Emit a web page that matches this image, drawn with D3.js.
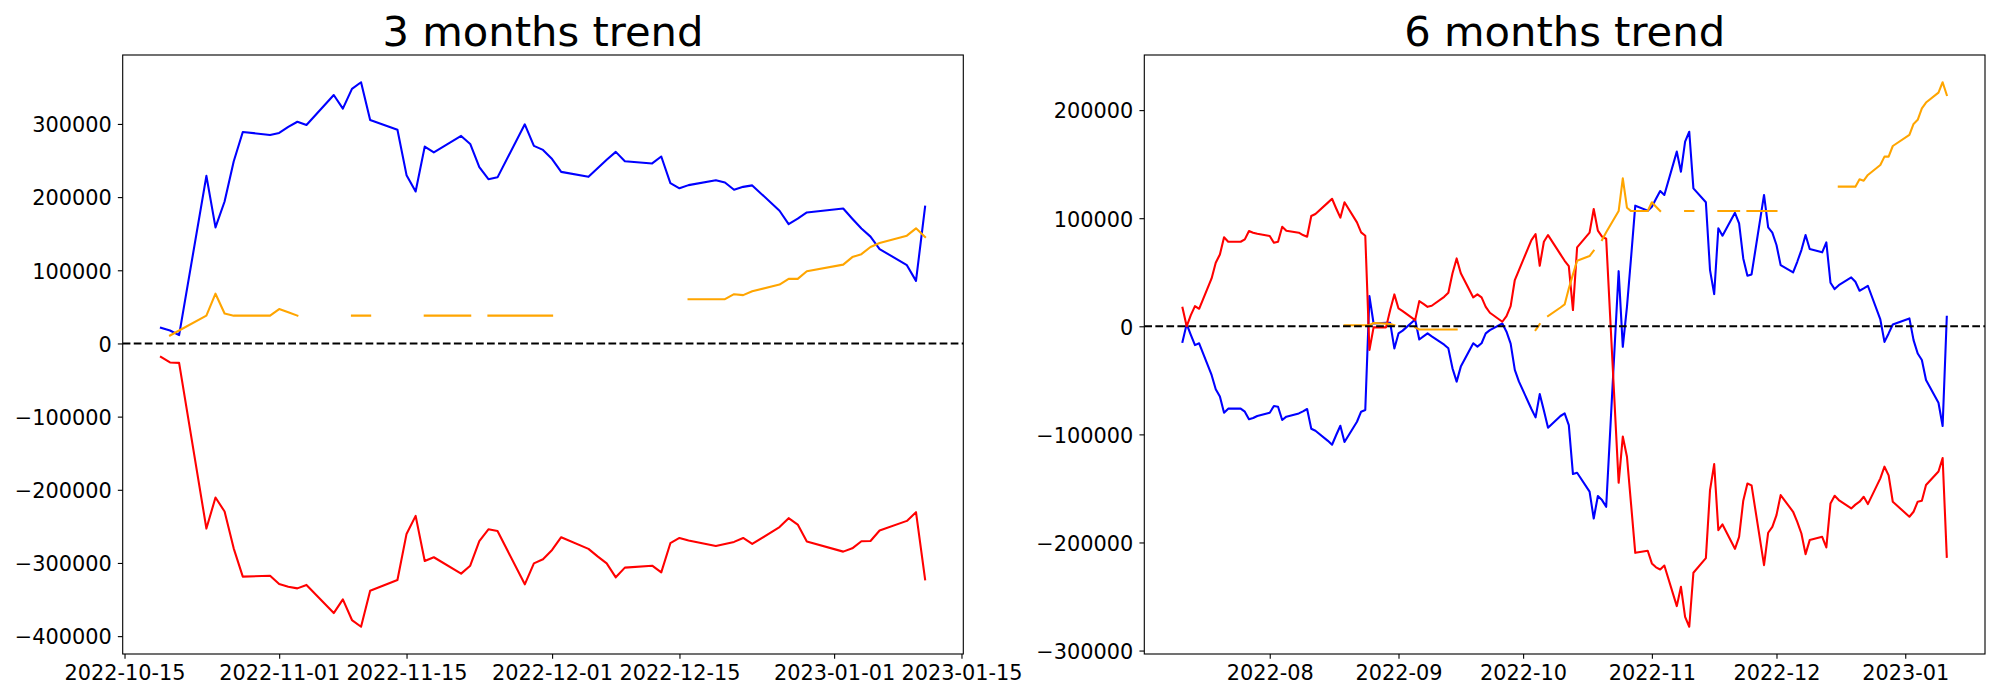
<!DOCTYPE html>
<html><head><meta charset="utf-8">
<script src="https://cdn.jsdelivr.net/npm/d3@7"></script>
<style>body{margin:0;background:#fff}svg{display:block;background:#fff}</style>
</head><body>
<svg id="chart" width="2000" height="700"></svg>
<script>
// ---------- 3 months panel ----------
const dates3 = ["2022-10-19","2022-10-20","2022-10-21",
"2022-10-24","2022-10-25","2022-10-26","2022-10-27","2022-10-28",
"2022-10-31","2022-11-01","2022-11-02","2022-11-03","2022-11-04",
"2022-11-07","2022-11-08","2022-11-09","2022-11-10","2022-11-11",
"2022-11-14","2022-11-15","2022-11-16","2022-11-17","2022-11-18",
"2022-11-21","2022-11-22","2022-11-23","2022-11-24","2022-11-25",
"2022-11-28","2022-11-29","2022-11-30","2022-12-01","2022-12-02",
"2022-12-05","2022-12-06","2022-12-07","2022-12-08","2022-12-09",
"2022-12-12","2022-12-13","2022-12-14","2022-12-15","2022-12-16",
"2022-12-19","2022-12-20","2022-12-21","2022-12-22","2022-12-23",
"2022-12-26","2022-12-27","2022-12-28","2022-12-29",
"2023-01-02","2023-01-03","2023-01-04","2023-01-05","2023-01-06",
"2023-01-09","2023-01-10","2023-01-11"];
const blue3 = [21400,17700,11400,
229000,158600,194000,248600,289000,
285000,287700,296000,303000,298600,
339500,321000,348000,357000,305500,
292000,230000,207700,269000,261000,
283600,272700,241000,224500,227000,
299500,270000,264500,252000,234500,
227700,239500,251000,261800,249000,
246000,255500,219000,212000,216400,
223000,220000,210000,214000,216000,
181400,163000,170500,179000,
184500,170500,157000,146000,129000,
107000,85500,187000];
const red3 = [-18300,-26000,-26500,
-253000,-210500,-229700,-280000,-318700,
-317400,-328800,-332400,-334700,-330000,
-368500,-349800,-378000,-387200,-338000,
-323300,-260300,-235600,-297300,-292200,
-314600,-303700,-270300,-254000,-256200,
-329200,-300500,-295000,-282200,-264800,
-280800,-291000,-300500,-319600,-306400,
-303700,-312800,-273000,-265800,-269400,
-276700,-274000,-271200,-265800,-274000,
-251000,-238800,-247500,-270800,
-284500,-280000,-270300,-269900,-255700,
-242500,-230600,-322400];
const orange3 = [null,10900,17700,
38000,68000,41000,38000,38000,
38000,47000,42700,38000,null,
null,null,38000,38000,38000,
null,null,null,38000,38000,
38000,38000,null,38000,38000,
38000,38000,38000,38000,null,
null,null,null,null,null,
null,null,null,null,60500,
60500,60500,67300,66000,71400,
80500,88200,88200,98600,
107700,118000,122000,131800,137300,
147300,157300,145500];
const yTicks3 = [-400000,-300000,-200000,-100000,0,100000,200000,300000];
const xTicks3 = ["2022-10-15","2022-11-01","2022-11-15","2022-12-01","2022-12-15","2023-01-01","2023-01-15"];

// ---------- 6 months panel ----------
const dates6 = [
"2022-07-11","2022-07-12","2022-07-13","2022-07-14","2022-07-15",
"2022-07-18","2022-07-19","2022-07-20","2022-07-21","2022-07-22",
"2022-07-25","2022-07-26","2022-07-27","2022-07-28","2022-07-29",
"2022-08-01","2022-08-02","2022-08-03","2022-08-04","2022-08-05",
"2022-08-08","2022-08-09","2022-08-10","2022-08-11","2022-08-12",
"2022-08-15","2022-08-16","2022-08-17","2022-08-18","2022-08-19",
"2022-08-22","2022-08-23","2022-08-24","2022-08-25","2022-08-26",
"2022-08-29","2022-08-30","2022-08-31","2022-09-01","2022-09-02",
"2022-09-05","2022-09-06","2022-09-07","2022-09-08","2022-09-09",
"2022-09-12","2022-09-13","2022-09-14","2022-09-15","2022-09-16",
"2022-09-19","2022-09-20","2022-09-21","2022-09-22","2022-09-23",
"2022-09-26","2022-09-27","2022-09-28","2022-09-29","2022-09-30",
"2022-10-03","2022-10-04","2022-10-05","2022-10-06","2022-10-07",
"2022-10-10","2022-10-11","2022-10-12","2022-10-13","2022-10-14",
"2022-10-17","2022-10-18","2022-10-19","2022-10-20","2022-10-21",
"2022-10-24","2022-10-25","2022-10-26","2022-10-27","2022-10-28",
"2022-10-31","2022-11-01","2022-11-02","2022-11-03","2022-11-04",
"2022-11-07","2022-11-08","2022-11-09","2022-11-10","2022-11-11",
"2022-11-14","2022-11-15","2022-11-16","2022-11-17","2022-11-18",
"2022-11-21","2022-11-22","2022-11-23","2022-11-24","2022-11-25",
"2022-11-28","2022-11-29","2022-11-30","2022-12-01","2022-12-02",
"2022-12-05","2022-12-06","2022-12-07","2022-12-08","2022-12-09",
"2022-12-12","2022-12-13","2022-12-14","2022-12-15","2022-12-16",
"2022-12-19","2022-12-20","2022-12-21","2022-12-22","2022-12-23",
"2022-12-26","2022-12-27","2022-12-28","2022-12-29",
"2023-01-02","2023-01-03","2023-01-04","2023-01-05","2023-01-06",
"2023-01-09","2023-01-10","2023-01-11"];
const red6 = [
17200,0,10300,18700,16200,
44300,58800,66500,82300,78200,
78200,80400,88100,86600,85600,
83500,77300,78200,92100,88400,
86600,84400,82900,102000,103900,
114400,118000,109000,100500,114700,
96100,86900,83800,-22000,-1000,
-1000,15000,29500,16500,14000,
5700,23300,20800,18000,19000,
27300,31000,49000,62800,49000,
26700,29500,26700,18000,12500,
4200,9400,18700,42800,52000,
79800,85300,56000,78200,84400,
66500,60600,55700,15000,73000,
86600,108500,88500,83000,81000,
-144800,-102000,-120700,-165000,-209600,
-207700,-219400,-223000,-225000,-221300,
-258900,-241000,-268800,-278000,-228000,
-214500,-151500,-127500,-188600,-183300,
-205900,-194800,-161400,-145400,-147200,
-221000,-191000,-185500,-174700,-156200,
-171600,-180900,-191700,-210800,-197800,
-194800,-204600,-163900,-156800,-160800,
-168500,-165000,-162300,-157700,-164500,
-140700,-129900,-137900,-162300,
-176200,-171600,-162300,-161400,-146900,
-134300,-121900,-213300];
const blue6 = [
-14400,2000,-8000,-17400,-15700,
-45000,-58300,-65000,-80000,-76200,
-76200,-79000,-86000,-84900,-83000,
-80000,-73800,-74400,-86700,-83600,
-80600,-78700,-76500,-94800,-96600,
-106000,-109600,-100600,-92000,-107000,
-88300,-79000,-77500,27900,2600,
3200,3200,-20500,-6600,-4000,
6300,-12200,-9400,-6600,-9400,
-17000,-20400,-38900,-51200,-37300,
-15700,-18800,-15700,-6600,-3500,
2600,-5000,-16000,-40400,-51200,
-76500,-84300,-62700,-78000,-93800,
-83000,-80600,-91400,-136700,-135500,
-153000,-177800,-157000,-160800,-167000,
51000,-19000,18000,64000,111600,
107000,110600,118000,125200,121500,
161600,143000,170800,180000,127600,
114700,52000,29800,90600,83800,
105000,95200,62800,46800,48000,
121500,91500,86600,75200,56600,
49800,59700,70500,84400,71500,
68400,77600,40300,34400,38000,
45200,41200,32900,35000,37500,
6300,-14400,-6600,1700,
7300,-12800,-25200,-31200,-49700,
-70700,-92300,8800];
const orange6 = [
null,null,null,null,null,
null,null,null,null,null,
null,null,null,null,null,
null,null,null,null,null,
null,null,null,null,null,
null,null,null,null,1000,
1000,1000,1000,1000,3000,
2500,2000,1000,null,null,
-1000,-3000,-3000,-3000,-3000,
-3000,-3000,-3000,-3000,null,
null,null,null,null,null,
null,null,null,null,null,
null,-3500,2000,null,9400,
17400,20200,35000,48000,60600,
65000,70000,null,79800,87000,
106600,136900,109700,106600,106600,
106600,114700,110600,106600,null,
null,null,106600,106600,106600,
null,null,null,106600,106600,
106600,106600,null,106600,106600,
106600,106600,106600,106600,null,
null,null,null,null,null,
null,null,null,null,129200,
129200,129200,136000,134700,140000,
149200,157000,157000,166800,
177000,187200,191000,201700,207000,
216200,225800,214000];
const yTicks6 = [-300000,-200000,-100000,0,100000,200000];
const xTicks6 = ["2022-08-01","2022-09-01","2022-10-01","2022-11-01","2022-12-01","2023-01-01"];

// ---------- drawing ----------
const svg = d3.select("#chart");
const parse = d3.utcParse("%Y-%m-%d");
const FONT = "DejaVu Sans";
const FS = 20.83;
const LW = 2.08;

function drawPanel(o) {
  const ds = o.dates.map(parse);
  const t0 = +ds[0], t1 = +ds[ds.length - 1], span = t1 - t0;
  const x = d3.scaleUtc()
    .domain([new Date(t0 - 0.05 * span), new Date(t1 + 0.05 * span)])
    .range([o.left, o.right]);
  const vals = o.series.flatMap(s => s.values).filter(v => v !== null);
  const lo = d3.min(vals), hi = d3.max(vals), pad = 0.05 * (hi - lo);
  const y = d3.scaleLinear().domain([lo - pad, hi + pad]).range([o.bottom, o.top]);

  const g = svg.append("g");

  o.series.forEach(s => {
    const pts = ds.map((d, i) => [d, s.values[i]]);
    const line = d3.line().defined(p => p[1] !== null).x(p => x(p[0])).y(p => y(p[1]));
    g.append("path").attr("d", line(pts))
      .attr("fill", "none").attr("stroke", s.color).attr("stroke-width", LW)
      .attr("stroke-linejoin", "round").attr("stroke-linecap", "square");
  });

  g.append("line")
    .attr("x1", o.left).attr("x2", o.right)
    .attr("y1", y(0)).attr("y2", y(0))
    .attr("stroke", "#000").attr("stroke-width", LW)
    .attr("stroke-dasharray", "7.71,3.33");

  // y axis
  const ya = svg.append("g").attr("transform", `translate(${o.left},0)`)
    .call(d3.axisLeft(y).tickValues(o.yTicks).tickSize(4.86).tickPadding(6.2).tickFormat(d3.format("d")));
  ya.select(".domain").remove();
  ya.attr("font-size", FS).attr("font-family", FONT);
  ya.selectAll("line").attr("stroke", "#000").attr("stroke-width", 1.11);
  ya.selectAll("text").attr("fill", "#000").attr("dy", "0.375em");

  // x axis
  const xa = svg.append("g").attr("transform", `translate(0,${o.bottom})`)
    .call(d3.axisBottom(x).tickValues(o.xTicks.map(parse)).tickSize(4.86).tickPadding(6.2).tickFormat(d3.utcFormat(o.xFmt)));
  xa.select(".domain").remove();
  xa.attr("font-size", FS).attr("font-family", FONT);
  xa.selectAll("line").attr("stroke", "#000").attr("stroke-width", 1.11);
  xa.selectAll("text").attr("fill", "#000");

  // frame
  svg.append("rect")
    .attr("x", o.left).attr("y", o.top)
    .attr("width", o.right - o.left).attr("height", o.bottom - o.top)
    .attr("fill", "none").attr("stroke", "#000").attr("stroke-width", 1.11);

  // title
  svg.append("text")
    .attr("x", (o.left + o.right) / 2).attr("y", o.top - 8.8)
    .attr("text-anchor", "middle")
    .attr("font-family", FONT).attr("font-size", 41.67).attr("fill", "#000")
    .text(o.title);
}

drawPanel({
  title: "3 months trend", left: 122.7, right: 963.3, top: 55, bottom: 654,
  dates: dates3, yTicks: yTicks3, xTicks: xTicks3, xFmt: "%Y-%m-%d",
  series: [
    {values: blue3, color: "#0000ff"},
    {values: red3, color: "#ff0000"},
    {values: orange3, color: "#ffa500"}
  ]
});
drawPanel({
  title: "6 months trend", left: 1144.3, right: 1985, top: 55, bottom: 654,
  dates: dates6, yTicks: yTicks6, xTicks: xTicks6, xFmt: "%Y-%m",
  series: [
    {values: blue6, color: "#0000ff"},
    {values: red6, color: "#ff0000"},
    {values: orange6, color: "#ffa500"}
  ]
});
</script>
</body></html>
